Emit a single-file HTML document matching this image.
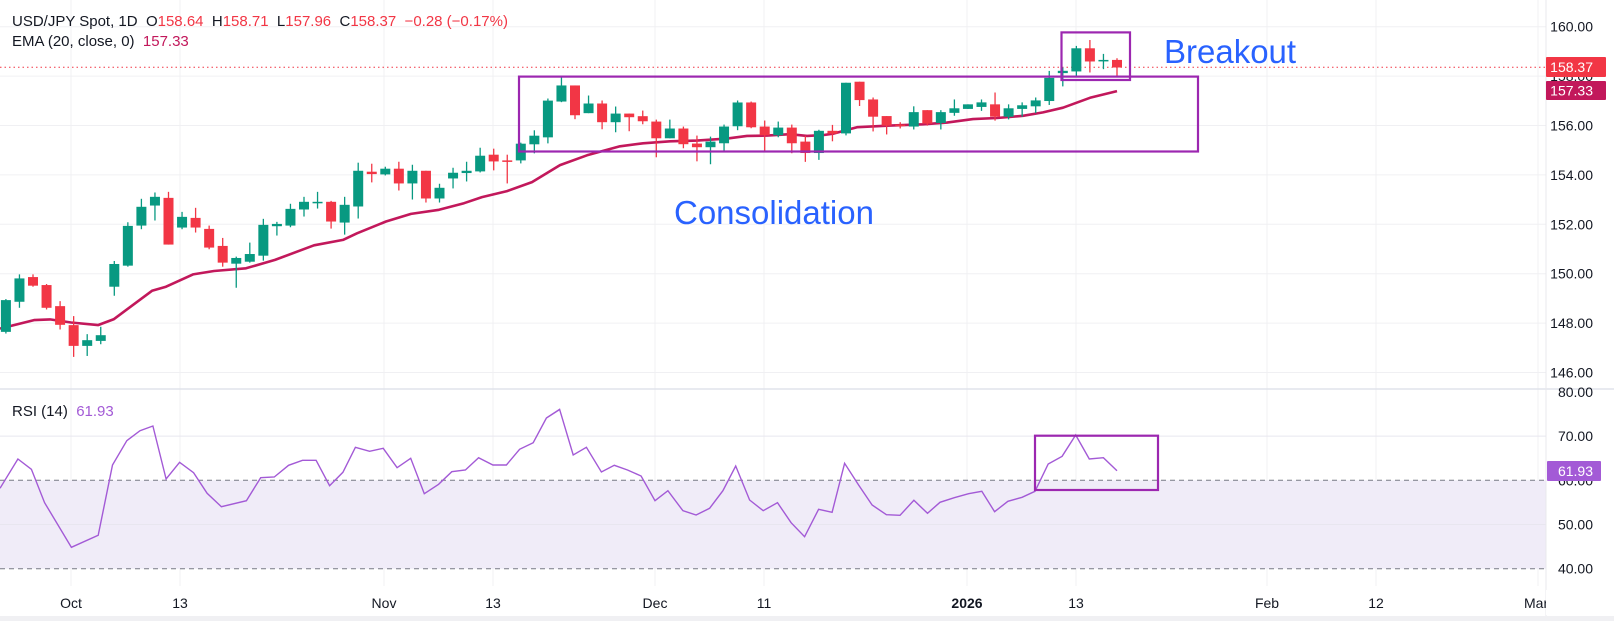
<!DOCTYPE html>
<html><head><meta charset="utf-8"><style>
html,body{margin:0;padding:0;background:#fff;width:1614px;height:621px;overflow:hidden}
svg{display:block;font-family:"Liberation Sans",sans-serif}
</style></head><body>
<svg id="c" width="1614" height="621" xmlns="http://www.w3.org/2000/svg"></svg>
<script>
const NS="http://www.w3.org/2000/svg";const s=document.getElementById('c');
function el(t,a,txt){const e=document.createElementNS(NS,t);for(const k in a)e.setAttribute(k,a[k]);if(txt!==undefined)e.textContent=txt;s.appendChild(e);return e;}
const T=y=>26.7+(y-27)*1.038;
const PY=p=>26.7+(160-p)*24.7;
const RY=v=>568.7-(v-40)*4.42;
const CW=1546;
// grids
[71,180,384,493,655,764,967,1076,1267,1376,1538].forEach(x=>{el('line',{x1:x,y1:0,x2:x,y2:586,stroke:'#f0f0f3','stroke-width':1});});
for(let p=146;p<=160;p+=2){el('line',{x1:0,y1:PY(p),x2:CW,y2:PY(p),stroke:'#f0f0f3'});}
// RSI pane
el('line',{x1:0,y1:389,x2:1614,y2:389,stroke:'#e0e3eb','stroke-width':1.5});
el('rect',{x:0,y:RY(60),width:CW,height:RY(40)-RY(60),fill:'#f0ecf8'});
[70,50].forEach(v=>el('line',{x1:0,y1:RY(v),x2:CW,y2:RY(v),stroke:'#e8e6ef'}));
[60,40].forEach(v=>el('line',{x1:0,y1:RY(v),x2:CW,y2:RY(v),stroke:'#787b86','stroke-dasharray':'5,4'}));
el('line',{x1:CW,y1:0,x2:CW,y2:621,stroke:'#e8e8ec'});
el('rect',{x:0,y:616,width:1614,height:5,fill:'#f0f0f3'});
// candles
const C=[[290.4,321,289.4,322.6,'G'],[269.5,292,265.6,297.8,'G'],[268.2,276.5,265.6,277.5,'R'],[275.9,297.8,274.9,299.4,'R'],[296.2,314.2,291.4,318.7,'R'],[314.5,334.5,305.8,345.1,'R'],[329,334.5,323.2,344.2,'G'],[324.2,329.7,316.1,332.9,'G'],[255.6,277.5,252.7,286.2,'G'],[218.9,257.2,215.4,258.2,'G'],
[200.5,218.6,192.8,222.1,'G'],[190.9,199.3,186.7,213.7,'G'],[191.9,236.9,186.1,236.9,'R'],[210.2,220.5,205.4,222.1,'G'],[211.2,220.5,201.5,225.3,'R'],[221.8,239.8,218.6,241.4,'R'],[238.2,254.3,230.5,258.2,'R'],[249.8,255.3,248.5,278.5,'G'],[246,253.4,235,254.3,'G'],[217.9,247.6,212.1,252.4,'G'],
[217,219.2,215,228.2,'G'],[202.5,218.6,197.6,220.2,'G'],[195.7,203.1,190.9,209.9,'G'],[195.7,196.6,186.1,202.2,'G'],[195.7,214.7,194.8,221.5,'R'],[198.6,215.7,190.9,227.3,'G'],[165.8,200.2,158,211.8,'G'],[166.7,169,159,177,'R'],[163.8,169.3,161.9,170.3,'G'],[163.8,178,157.1,184.8,'R'],
[165.8,178,160,193.5,'G'],[165.8,192.5,165.8,196.4,'R'],[182.2,192.5,178.3,196.4,'G'],[167.7,173.2,162.9,182.8,'G'],[165.8,168,157.1,176.1,'G'],[151.3,166.4,143.6,167.4,'G'],[150.3,156.8,144.5,165.4,'R'],[155.8,156.6,150.3,178,'R'],[139.7,155.8,138.7,158.7,'G'],[132,140.3,126.8,149,'G'],
[98.2,133.6,96.2,139.4,'G'],[83.6,99.1,75.6,99.7,'G'],[83.6,112.3,83.6,116.1,'R'],[101,110.3,93.3,110.3,'G'],[101,119,98.1,125.8,'R'],[110.7,119,103.9,128.7,'G'],[110.7,114.2,110.7,127.7,'R'],[113.2,118.1,107.8,121,'R'],[118.4,134.5,116.5,152.8,'R'],[125.1,134.5,116.5,134.5,'G'],
[125.1,140.2,123.2,144.1,'R'],[139.6,143.1,131.9,156.7,'R'],[137.7,143.1,132.9,159.5,'G'],[123.2,139.3,121.3,147,'G'],[100,122.9,98.1,126.7,'G'],[100,123.9,99.1,124.8,'R'],[123.2,131.6,117.4,147,'R'],[124.2,131.6,118.4,133.5,'G'],[124.2,139.3,121.3,148.9,'R'],[137.7,148.7,132,157.2,'R'],
[127.3,148.7,126.3,155.3,'G'],[127.3,130.1,121.6,137.4,'R'],[81,129.8,81,131.7,'G'],[80,97.7,80,103.4,'R'],[97.1,113.7,95.2,127.9,'R'],[113.1,122.3,113.1,130.8,'R'],[121.3,122.3,119,125,'R'],[109.3,123.2,103.7,126,'G'],[107.4,120.4,107.4,122.3,'R'],[109.3,119.7,107.4,126,'G'],
[105.6,110,97.1,112.8,'G'],[101.8,106.2,101.8,106.2,'G'],[99.9,104.3,97.1,108.1,'G'],[101.8,113.7,90.4,117.5,'R'],[105.6,113.7,101.8,116.3,'G'],[102.7,106.2,99.9,113.7,'G'],[98,103.7,95.2,110.3,'G'],[76.3,98.6,69.6,102.4,'G'],[69.5,71.7,66.3,84.5,'G'],[47.8,70.1,45.5,75.6,'G'],
[47.8,60.5,39.8,71.1,'R'],[59,60.2,53.2,67.9,'G'],[59,66.3,57.4,74.9,'R']];
const X0=1117-13.55*(C.length-1);
// dotted last price line
el('line',{x1:0,y1:67.3,x2:CW,y2:67.3,stroke:'#f23645','stroke-dasharray':'1.5,3'});
// EMA
const E=[[0,317.8],[34,309.7],[50,309],[71,312],[98,314.5],[114,308.7],[152,281.4],[166,277.5],[193,265.6],[214,262.4],[246,259.8],[275,251.7],[314,237.6],[343,232.4],[357,226],[386,214.7],[411,207.3],[439,203.4],[464,197],[482,191.2],[507,185.4],[532,176.7],[560,160.3],[587,150.9],[620,142.2],[643,139.3],[670,137.4],[697,136.7],[727,134.8],[747,132.2],[767,131.9],[790,130.6],[807,132.2],[823,131.4],[833,130.1],[857,123.8],[890,122.3],[923,121],[947,119.4],[973,116],[997,115],[1023,112.8],[1043,109.6],[1063,105],[1090,95.5],[1117,89]];
el('polyline',{points:E.map(p=>p[0]+','+T(p[1]).toFixed(1)).join(' '),fill:'none',stroke:'#c2185b','stroke-width':2.6,'stroke-linejoin':'round'});
C.forEach((c,i)=>{const x=X0+13.55*i;const col=c[4]=='G'?'#089981':'#f23645';
el('line',{x1:x,y1:T(c[2]),x2:x,y2:T(c[3]),stroke:col,'stroke-width':1.3});
let t=T(c[0]),b=T(c[1]);if(b-t<1.5){b=t+1.5;}
el('rect',{x:x-5,y:t,width:10,height:b-t,fill:col});});
// boxes
el('rect',{x:519,y:76.6,width:679,height:74.9,fill:'none',stroke:'#9c27b0','stroke-width':2.2});
el('rect',{x:1061.5,y:32.4,width:68.5,height:47.6,fill:'none',stroke:'#9c27b0','stroke-width':2.2});
el('text',{x:1164,y:63,'font-size':33,fill:'#2962ff'},'Breakout');
el('text',{x:674,y:224,'font-size':33,fill:'#2962ff'},'Consolidation');
// RSI line
const R=[[0,355],[50,267],[88,298],[125,398],[200,532],[275,496],[315,285],[355,212],[392,182],[428,168],[465,327],[503,277],[542,308],[580,370],[620,410],[690,392],[730,323],[768,321],[808,286],[847,271],[885,271],[923,347],[960,307],[995,232],[1035,244],[1073,235],[1112,293],[1150,265],[1188,371],[1228,343],[1265,305],[1303,300],[1340,263],[1380,285],[1418,285],[1455,238],[1493,218],[1530,144],[1568,118]].map(p=>[p[0]/2.8,370+p[1]/3]);
const R2=[[18,144],[55,118],[93,255],[130,232],[172,306],[208,286],[245,300],[283,318],[322,392],[358,362],[400,422],[437,435],[475,415],[512,362],[548,288],[587,390],[625,422],[665,398],[703,458],[741,500],[780,418],[818,427],[853,280],[892,345],[930,405],[970,434],[1008,436],[1047,391],[1085,430],[1120,397],[1160,383],[1200,371],[1237,364],[1273,425],[1310,394],[1350,382],[1386,364],[1423,282],[1462,259],[1500,195],[1538,267]].map(p=>[540+p[0]/2.8,370+p[1]/3]);
const R3=[[1090+40/2.99,370+263/3],[1117,370+302/3]];
el('polyline',{points:R.concat(R2,R3).map(p=>p[0].toFixed(1)+','+p[1].toFixed(1)).join(' '),fill:'none',stroke:'#a35ad6','stroke-width':1.4});
el('rect',{x:1035,y:435.7,width:123,height:54.3,fill:'none',stroke:'#9c27b0','stroke-width':2.2});
// price axis labels
[160,156,154,152,150,148,146].forEach(p=>el('text',{x:1593,y:PY(p)+5,'font-size':14,fill:'#131722','text-anchor':'end'},p.toFixed(2)));
el('text',{x:1593,y:PY(158)+5,'font-size':14,fill:'#131722','text-anchor':'end'},'158.00');
[80,70,60,50,40].forEach(v=>el('text',{x:1593,y:RY(v)+5,'font-size':14,fill:'#131722','text-anchor':'end'},v.toFixed(2)));
el('rect',{x:1546,y:57,width:60,height:20,fill:'#f23645',rx:1});
el('text',{x:1593,y:72,'font-size':14,fill:'#fff','text-anchor':'end'},'158.37');
el('rect',{x:1546,y:81,width:60,height:19,fill:'#c2185b',rx:1});
el('text',{x:1593,y:95.5,'font-size':14,fill:'#fff','text-anchor':'end'},'157.33');
el('rect',{x:1547,y:461,width:54,height:20,fill:'#a35ad6',rx:1});
el('text',{x:1593,y:476,'font-size':14,fill:'#fff','text-anchor':'end'},'61.93');
// date labels
[['Oct',71],['13',180],['Nov',384],['13',493],['Dec',655],['11',764],['2026',967],['13',1076],['Feb',1267],['12',1376]].forEach(d=>{const t=el('text',{x:d[1],y:608,'font-size':14,fill:'#131722','text-anchor':'middle'},d[0]);if(d[0]=='2026')t.setAttribute('font-weight','bold');});
el('text',{x:1524,y:608,'font-size':14,fill:'#131722'},'Mar');
el('rect',{x:1546,y:590,width:68,height:25,fill:'#fff'});
// header
const h=el('text',{x:12,y:26,'font-size':15,fill:'#131722'});
function ts(parent,txt,fill){const e=document.createElementNS(NS,'tspan');if(fill)e.setAttribute('fill',fill);e.textContent=txt;parent.appendChild(e);}
ts(h,'USD/JPY Spot, 1D  O');ts(h,'158.64','#f23645');ts(h,'  H');ts(h,'158.71','#f23645');ts(h,'  L');ts(h,'157.96','#f23645');ts(h,'  C');ts(h,'158.37','#f23645');ts(h,'  \u22120.28 (\u22120.17%)','#f23645');
h.setAttribute('xml:space','preserve');h.style.whiteSpace='pre';
const h2=el('text',{x:12,y:46,'font-size':15,fill:'#131722'});h2.style.whiteSpace='pre';ts(h2,'EMA (20, close, 0)  ');ts(h2,'157.33','#c2185b');
const h3=el('text',{x:12,y:416,'font-size':15,fill:'#131722'});h3.style.whiteSpace='pre';ts(h3,'RSI (14)  ');ts(h3,'61.93','#a35ad6');
</script>
</body></html>
